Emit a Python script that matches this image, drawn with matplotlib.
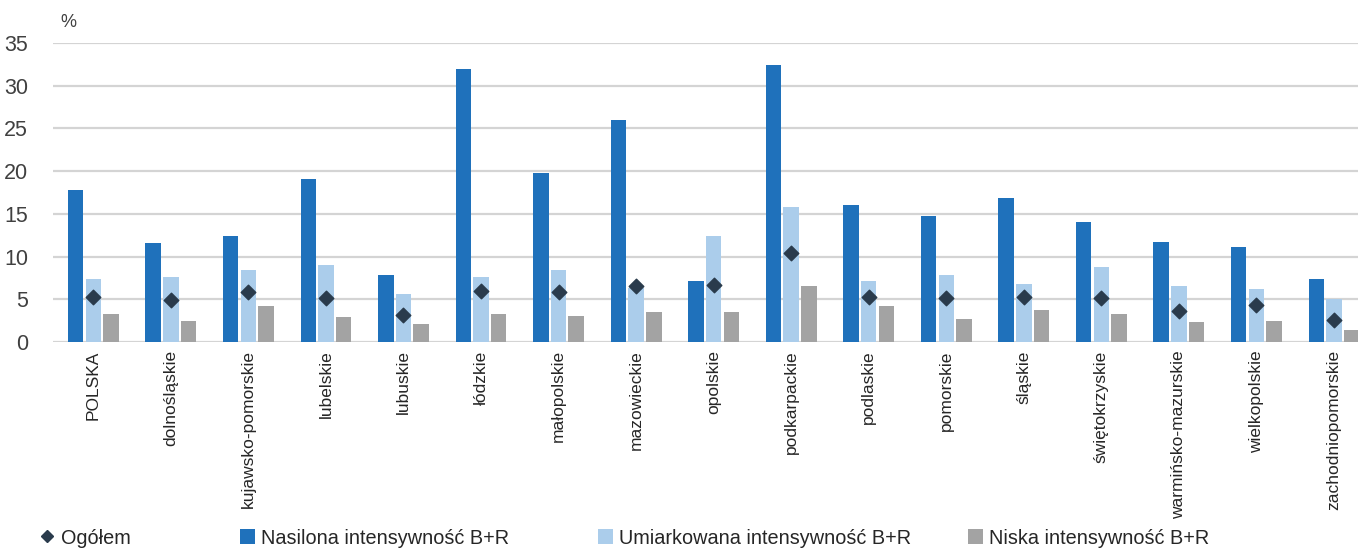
import matplotlib
matplotlib.use("Agg")
import matplotlib.pyplot as plt
import numpy as np
from matplotlib.lines import Line2D
from matplotlib.patches import Patch

plt.rcParams['font.family'] = ['Liberation Sans', 'DejaVu Sans']

regions = ["POLSKA", "dolnośląskie", "kujawsko-pomorskie", "lubelskie", "lubuskie",
           "łódzkie", "małopolskie", "mazowieckie", "opolskie", "podkarpackie",
           "podlaskie", "pomorskie", "śląskie", "świętokrzyskie",
           "warmińsko-mazurskie", "wielkopolskie", "zachodniopomorskie"]

nasilona = [17.8, 11.6, 12.4, 19.1, 7.8, 31.9, 19.8, 26.0, 7.1, 32.4,
            16.0, 14.7, 16.8, 14.1, 11.7, 11.1, 7.4]
umiarkowana = [7.4, 7.6, 8.4, 9.0, 5.6, 7.6, 8.4, 6.3, 12.4, 15.8,
               7.1, 7.8, 6.8, 8.8, 6.5, 6.2, 5.0]
niska = [3.3, 2.5, 4.2, 2.9, 2.1, 3.3, 3.1, 3.5, 3.5, 6.5,
         4.2, 2.7, 3.7, 3.3, 2.3, 2.5, 1.4]
ogolem = [5.3, 4.9, 5.8, 5.1, 3.2, 6.0, 5.8, 6.5, 6.7, 10.4,
          5.3, 5.1, 5.3, 5.1, 3.6, 4.3, 2.6]

DARK = "#1f71bb"
LIGHT = "#abcdeb"
GREY = "#a3a3a3"
MARK = "#2a3b4c"

fig = plt.figure(figsize=(13.58, 5.5), dpi=100)
ax = fig.add_axes([53 / 1358, 1 - 342 / 550, 1 - 53 / 1358, (342 - 43) / 550])

x = np.arange(len(regions))
w = 0.2
off = 0.228
ax.bar(x - off, nasilona, w, color=DARK, zorder=2)
ax.bar(x, umiarkowana, w, color=LIGHT, zorder=2)
ax.bar(x + off, niska, w, color=GREY, zorder=2)
ax.scatter(x, ogolem, marker="D", s=55, color=MARK, zorder=3)

ax.set_ylim(0, 35)
ax.set_xlim(-0.52, 16.31)
ax.set_yticks(range(0, 36, 5))
ax.yaxis.grid(True, color="#d4d4d4", lw=1.6)
ax.set_axisbelow(True)
for s in ax.spines.values():
    s.set_visible(False)
ax.tick_params(axis="y", length=0, labelsize=15.5, labelcolor="#404040", pad=18)
ax.tick_params(axis="x", length=0, labelsize=12.5, labelcolor="#262626", pad=6)
ax.set_xticks(x)
ax.set_xticklabels(regions, rotation=90, va="top", ha="center")
ax.text(-0.43, 36.4, "%", fontsize=13, color="#404040", va="bottom")

# legend entries placed one by one, like in the original
handles = [
    Line2D([], [], marker="D", color=MARK, ls="none", markersize=6),
    Patch(facecolor=DARK),
    Patch(facecolor=LIGHT),
    Patch(facecolor=GREY),
]
labels = ["Ogółem", "Nasilona intensywność B+R",
          "Umiarkowana intensywność B+R", "Niska intensywność B+R"]
starts = [40, 240, 598, 968]
for h, lab, px in zip(handles, labels, starts):
    fig.legend([h], [lab], loc="center left", bbox_to_anchor=(px / 1358, 1 - 538 / 550),
               frameon=False, fontsize=14.3, borderpad=0, borderaxespad=0,
               handlelength=0.75, handletextpad=0.3, handleheight=0.75,
               labelcolor="#262626")

fig.savefig("out.png", dpi=100)
